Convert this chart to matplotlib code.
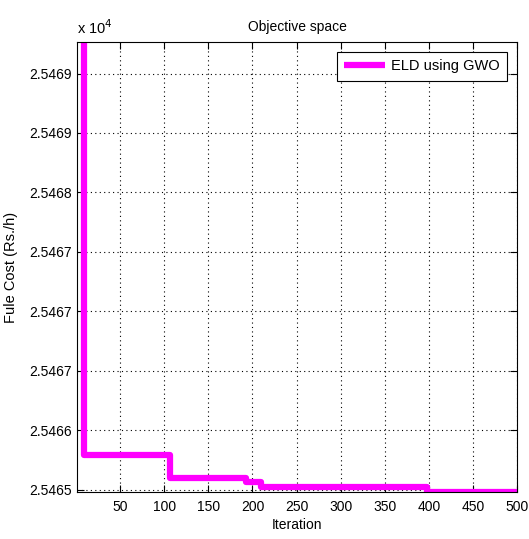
import matplotlib
matplotlib.use("Agg")
import matplotlib.pyplot as plt
from matplotlib import font_manager
from matplotlib.ticker import FixedLocator, FixedFormatter

# ---- data ----
change_iters = [1, 9, 106, 193, 210, 398, 500]
best_cost = [25470.5, 25465.794, 25465.601, 25465.561, 25465.521, 25465.480, 25465.480]
y_ticks = [25465.5, 25466.0, 25466.5, 25467.0, 25467.5, 25468.0, 25468.5, 25469.0]
y_tick_labels = ["2.5465", "2.5466", "2.5467", "2.5467", "2.5467", "2.5468", "2.5469", "2.5469"]
x_ticks = [50, 100, 150, 200, 250, 300, 350, 400, 450, 500]
series_label = "ELD using GWO"

names = {f.name for f in font_manager.fontManager.ttflist}
narrow = None
for cand in ["Liberation Sans Narrow", "DejaVu Sans Condensed", "Liberation Sans"]:
    if cand in names:
        narrow = cand
        break
if narrow is None:
    narrow = "DejaVu Sans"
regular = "Liberation Sans" if "Liberation Sans" in names else "DejaVu Sans"

fig = plt.figure(figsize=(5.29, 5.39), dpi=100)
ax = fig.add_axes([77/529, 47/539, 440/529, 450/539])

ax.plot(change_iters, best_cost, drawstyle="steps-post", color="#FF00FF",
        linewidth=4.5, label=series_label, solid_capstyle="butt")

ax.set_xlim(1, 500)
ax.set_ylim(25465.48, 25469.265)
ax.xaxis.set_major_locator(FixedLocator(x_ticks))
ax.yaxis.set_major_locator(FixedLocator(y_ticks))
ax.yaxis.set_major_formatter(FixedFormatter(y_tick_labels))

ax.grid(True, color="black", linestyle=(0, (1, 3)), linewidth=0.8)
ax.tick_params(direction="in", top=True, right=True, length=5, width=0.8,
               labelsize=10, pad=4)
ax.tick_params(axis="x", pad=6)
for lab in ax.get_xticklabels() + ax.get_yticklabels():
    lab.set_fontfamily(narrow)
for s in ax.spines.values():
    s.set_linewidth(0.8)
    s.set_color("black")

ax.set_title("Objective space", fontfamily=narrow, fontsize=10, pad=8)
ax.set_xlabel("Iteration", fontfamily=narrow, fontsize=10)
ax.xaxis.set_label_coords(0.5, -0.058)
ax.set_ylabel("Fule Cost (Rs./h)", fontfamily=regular, fontsize=10.5)
ax.yaxis.set_label_coords(-0.135, 0.5)

ax.text(0.0, 1.012, r"x 10$^{4}$", transform=ax.transAxes, ha="left", va="bottom",
        fontfamily=narrow, fontsize=10.5)

leg = ax.legend(loc="upper right", prop={"family": narrow, "size": 10.5},
                fancybox=False, edgecolor="black", framealpha=1,
                borderaxespad=0.7, handlelength=2.8, handletextpad=0.4,
                borderpad=0.5)
leg.get_frame().set_linewidth(0.8)

fig.savefig("out.png", dpi=100)
